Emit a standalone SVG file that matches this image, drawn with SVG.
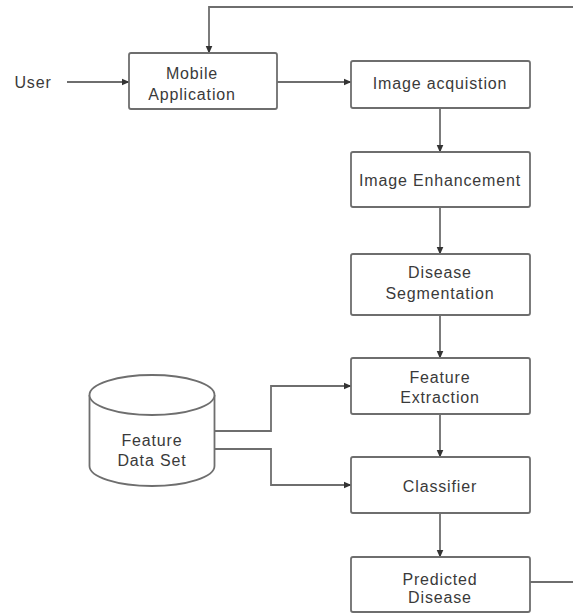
<svg xmlns="http://www.w3.org/2000/svg" width="573" height="613" viewBox="0 0 573 613">
  <defs>
    <marker id="arrow" markerUnits="userSpaceOnUse" markerWidth="8" markerHeight="8" refX="7.5" refY="4" orient="auto">
      <path d="M0,0.5 L8,4 L0,7.5 z" fill="#333"/>
    </marker>
    <style>
      .box { fill: #fff; stroke: #6e6e6e; stroke-width: 1.8; }
      .lbl { font-family: "Liberation Sans", Arial, sans-serif; font-size: 16px; letter-spacing: 0.85px; fill: #3a3a3a; text-anchor: middle; }
      .edge { fill: none; stroke: #6e6e6e; stroke-width: 1.8; }
      .arr { marker-end: url(#arrow); }
    </style>
  </defs>
  <rect width="573" height="613" fill="#fff"/>

  <!-- connectors -->
  <g id="connectors">
    <path class="edge arr" d="M573,7 H209 V53"/>
    <path class="edge" d="M530,582 H573"/>
    <path class="edge arr" d="M67,82 H129"/>
    <path class="edge arr" d="M277,82 H351"/>
    <path class="edge arr" d="M440,108 V152"/>
    <path class="edge arr" d="M440,207 V254"/>
    <path class="edge arr" d="M440,315 V358"/>
    <path class="edge arr" d="M440,414 V457"/>
    <path class="edge arr" d="M440,513 V557"/>
    <path class="edge arr" d="M214,431 H271 V386 H351"/>
    <path class="edge arr" d="M214,449 H271 V485 H351"/>
  </g>

  <g id="user">
    <text class="lbl" x="33" y="88">User</text>
  </g>

  <g id="mobile-app">
    <rect class="box" x="129" y="53" width="148" height="56" rx="2"/>
    <text class="lbl" x="192" y="79">Mobile</text>
    <text class="lbl" x="192" y="100">Application</text>
  </g>

  <g id="image-acquisition">
    <rect class="box" x="351" y="61" width="179" height="47" rx="2"/>
    <text class="lbl" x="440" y="89">Image acquistion</text>
  </g>

  <g id="image-enhancement">
    <rect class="box" x="351" y="152" width="179" height="55" rx="2"/>
    <text class="lbl" x="440" y="186">Image Enhancement</text>
  </g>

  <g id="disease-segmentation">
    <rect class="box" x="351" y="254" width="179" height="61" rx="2"/>
    <text class="lbl" x="440" y="278">Disease</text>
    <text class="lbl" x="440" y="299">Segmentation</text>
  </g>

  <g id="feature-extraction">
    <rect class="box" x="351" y="358" width="179" height="56" rx="2"/>
    <text class="lbl" x="440" y="383">Feature</text>
    <text class="lbl" x="440" y="403">Extraction</text>
  </g>

  <g id="classifier">
    <rect class="box" x="351" y="457" width="179" height="56" rx="2"/>
    <text class="lbl" x="440" y="492">Classifier</text>
  </g>

  <g id="predicted-disease">
    <rect class="box" x="351" y="557" width="179" height="55" rx="2"/>
    <text class="lbl" x="440" y="585">Predicted</text>
    <text class="lbl" x="440" y="603">Disease</text>
  </g>

  <g id="feature-data-set">
    <path class="box" d="M89.5,395 V466 A62.5,20 0 0 0 214.5,466 V395"/>
    <ellipse class="box" cx="152" cy="395" rx="62.5" ry="20"/>
    <text class="lbl" x="152" y="446">Feature</text>
    <text class="lbl" x="152" y="466">Data Set</text>
  </g>
</svg>
